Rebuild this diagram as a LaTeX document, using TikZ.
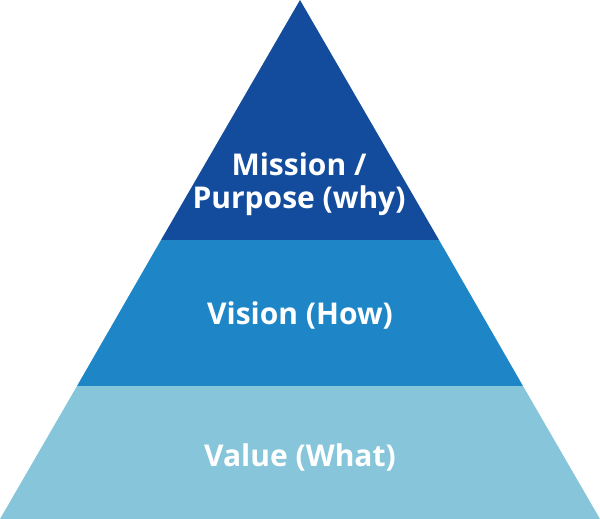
\documentclass[tikz,border=0pt]{standalone}
\usepackage{fontspec}
\setmainfont{Open Sans}
\definecolor{topblue}{HTML}{134C9C}
\definecolor{midblue}{HTML}{1E86C6}
\definecolor{lowblue}{HTML}{87C6DA}
\begin{document}
\begin{tikzpicture}[x=1pt,y=-1pt,
  lbl/.style={text=white,font=\fontsize{30}{33}\selectfont\bfseries,align=center,inner sep=0pt}]
\useasboundingbox (0,0) rectangle (600,519);
\fill[topblue] (300,0) -- (439,240) -- (161,240) -- cycle;
\fill[midblue] (161,240) -- (439,240) -- (523,386) -- (77,386) -- cycle;
\fill[lowblue] (77,386) -- (523,386) -- (600,519) -- (0,519) -- cycle;
\node[lbl] (mission) at (299,184) {Mission /\\Purpose (why)};
\node[lbl] (vision) at (300,315) {Vision (How)};
\node[lbl] (value) at (300,457) {Value (What)};
\end{tikzpicture}
\end{document}
